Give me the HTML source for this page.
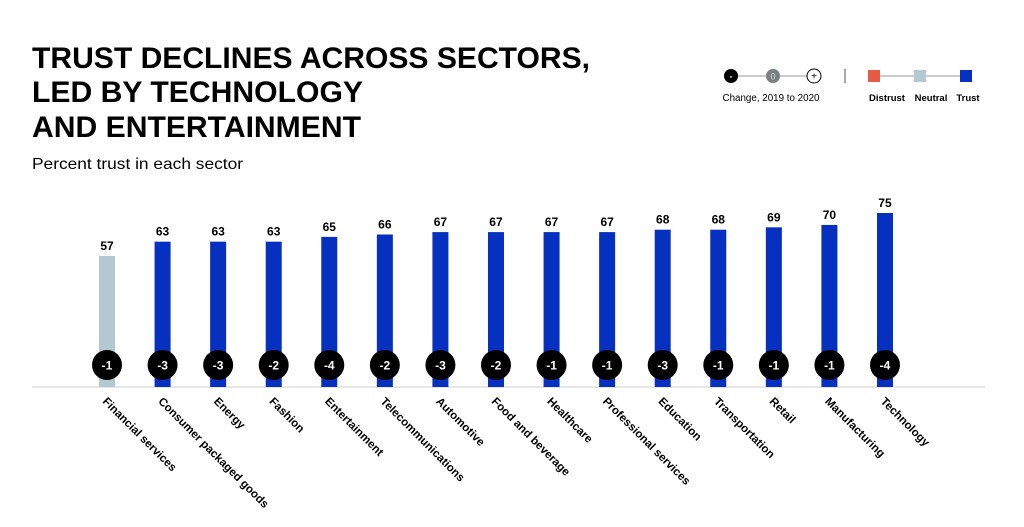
<!DOCTYPE html><html><head><meta charset="utf-8"><style>
body{margin:0;width:1024px;height:522px;background:#fff;font-family:"Liberation Sans",Arial,sans-serif;overflow:hidden}
</style></head><body>
<svg width="1024" height="522" xmlns="http://www.w3.org/2000/svg" font-family="Liberation Sans, Arial, sans-serif">
<g font-weight="bold" font-size="30" fill="#000">
<text x="32" y="68" textLength="558" lengthAdjust="spacingAndGlyphs">TRUST DECLINES ACROSS SECTORS,</text>
<text x="32" y="102" textLength="331" lengthAdjust="spacingAndGlyphs">LED BY TECHNOLOGY</text>
<text x="32" y="137" textLength="329" lengthAdjust="spacingAndGlyphs">AND ENTERTAINMENT</text>
</g>
<text x="32" y="169" font-size="16" textLength="211" lengthAdjust="spacingAndGlyphs">Percent trust in each sector</text>
<line x1="730" y1="76" x2="814" y2="76" stroke="#999" stroke-width="1"/>
<circle cx="731" cy="76" r="7" fill="#000"/><text x="731" y="79.5" font-size="9" fill="#fff" text-anchor="middle" font-weight="bold">-</text>
<circle cx="773" cy="76" r="7" fill="#7a7f80"/><text x="773" y="79.5" font-size="9" fill="#ddd" text-anchor="middle">0</text>
<circle cx="814" cy="76" r="7" fill="#fff" stroke="#000"/><text x="814" y="79.5" font-size="10" text-anchor="middle">+</text>
<text x="771" y="101" font-size="9.8" text-anchor="middle">Change, 2019 to 2020</text>
<line x1="845" y1="69" x2="845" y2="83" stroke="#555"/>
<line x1="874" y1="76" x2="966" y2="76" stroke="#999"/>
<rect x="868" y="70" width="12" height="12" fill="#e85a45"/>
<rect x="914" y="70" width="12" height="12" fill="#b4c8d2"/>
<rect x="960" y="70" width="12" height="12" fill="#0530c0"/>
<g font-size="9.5" font-weight="bold" text-anchor="middle">
<text x="887" y="101">Distrust</text><text x="931" y="101">Neutral</text><text x="968" y="101">Trust</text></g>
<line x1="32" y1="387" x2="985" y2="387" stroke="#ddd" stroke-width="1.5"/>
<g id="bars"></g>
</svg>
<script>
const d=[["Financial services",57,-1],["Consumer packaged goods",63,-3],["Energy",63,-3],["Fashion",63,-2],["Entertainment",65,-4],["Telecommunications",66,-2],["Automotive",67,-3],["Food and beverage",67,-2],["Healthcare",67,-1],["Professional services",67,-1],["Education",68,-3],["Transportation",68,-1],["Retail",69,-1],["Manufacturing",70,-1],["Technology",75,-4]];
let s="";d.forEach((r,i)=>{const cx=107+i*55.57,top=256-(r[1]-57)*2.39;
s+=`<rect x="${cx-8}" y="${top}" width="16" height="${387-top}" fill="${i==0?'#b4c8d2':'#0530c0'}"/>`;
s+=`<text x="${cx}" y="${top-6}" font-size="12" font-weight="bold" text-anchor="middle">${r[1]}</text>`;
s+=`<circle cx="${cx}" cy="365" r="15" fill="#000"/><text x="${cx}" y="369.5" font-size="12" font-weight="bold" fill="#fff" text-anchor="middle">${r[2]}</text>`;
s+=`<text transform="translate(${cx-5},402) rotate(45)" font-size="11.5" font-weight="bold">${r[0]}</text>`;});
document.getElementById("bars").innerHTML=s;
</script>
</body></html>
